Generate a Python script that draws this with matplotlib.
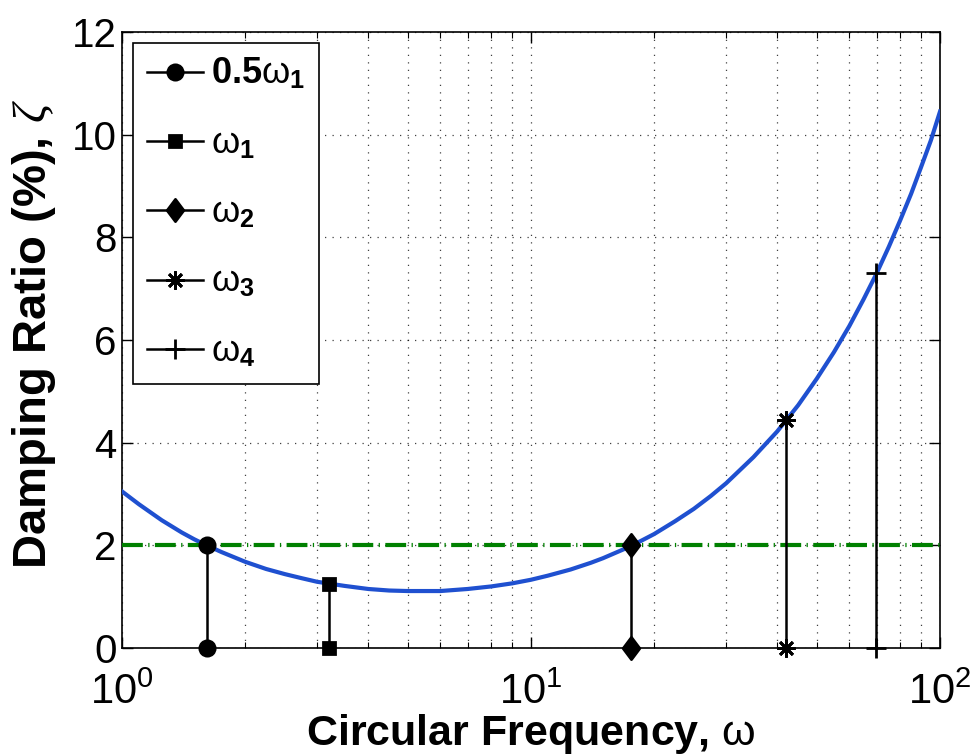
import numpy as np
import matplotlib.pyplot as plt
from matplotlib.path import Path
from matplotlib.ticker import FixedLocator, LogLocator, NullFormatter

plt.rcParams['font.family'] = ['Liberation Sans', 'DejaVu Sans']
plt.rcParams['mathtext.fontset'] = 'custom'
plt.rcParams['mathtext.rm'] = 'Liberation Sans'
plt.rcParams['mathtext.it'] = 'Liberation Serif:italic'
plt.rcParams['mathtext.bf'] = 'Liberation Sans:bold'

# Damping curve (omega, zeta %)
curve_w = [1, 1.1, 1.25, 1.4, 1.5, 1.6, 1.75, 2, 2.25, 2.5, 2.75, 3, 3.5, 4,
           4.5, 5, 5.5, 6, 7, 8, 9, 10, 11, 12.5, 14, 15, 17.5, 20, 22.5, 25,
           27.5, 30, 35, 40, 45, 50, 55, 60, 65, 70, 75, 80, 85, 90, 95, 100]
curve_z = [3.05, 2.80, 2.49, 2.25, 2.12, 2.01, 1.87, 1.68, 1.54, 1.44, 1.36,
           1.29, 1.21, 1.15, 1.12, 1.11, 1.11, 1.11, 1.15, 1.20, 1.26, 1.33,
           1.41, 1.53, 1.66, 1.75, 1.98, 2.22, 2.47, 2.71, 2.96, 3.21, 3.72,
           4.22, 4.73, 5.25, 5.76, 6.27, 6.79, 7.30, 7.82, 8.34, 8.85, 9.38,
           9.89, 10.45]

# Target damping level
target_z = 2.0

# Modal frequencies and damping at them
mode_labels = [r'$\mathbf{0.5}\mathrm{\omega}_\mathbf{1}$', r'$\mathrm{\omega}_\mathbf{1}$',
               r'$\mathrm{\omega}_\mathbf{2}$', r'$\mathrm{\omega}_\mathbf{3}$',
               r'$\mathrm{\omega}_\mathbf{4}$']
mode_w = [1.61, 3.21, 17.6, 42.0, 69.7]
mode_z = [2.0, 1.25, 2.0, 4.45, 7.3]

# matlab style diamond (a bit taller than wide)
diamond = Path([(0, 1), (0.75, 0), (0, -1), (-0.75, 0), (0, 1)],
               [Path.MOVETO, Path.LINETO, Path.LINETO, Path.LINETO, Path.CLOSEPOLY])
mode_markers = ['o', 's', diamond, (8, 2, 0), '+']
mode_sizes = [11, 9, 16, 13, 15]

fig = plt.figure(figsize=(9.74, 7.55), dpi=100)
ax = fig.add_axes([0.1253, 0.1417, 0.8398, 0.8159])

ax.plot(curve_w, curve_z, color='#1f50d0', lw=3, zorder=3)
ax.plot([1, 100], [target_z, target_z], color='#008000', lw=3,
        dashes=(5, 1.3, 0.3, 1.3), zorder=3)

for lab, w, z, m, s in zip(mode_labels, mode_w, mode_z, mode_markers, mode_sizes):
    ax.plot([w, w], [0, z], color='k', lw=1.8, marker=m, ms=s,
            mew=2, label=lab, clip_on=False, zorder=4)

ax.set_xscale('log')
ax.set_xlim(1, 100)
ax.set_ylim(0, 12)
ax.xaxis.set_major_locator(FixedLocator([1, 10, 100]))
ax.set_xticklabels([r'$\mathrm{10^{0}}$', r'$\mathrm{10^{1}}$', r'$\mathrm{10^{2}}$'])
ax.xaxis.set_minor_locator(LogLocator(base=10, subs=np.arange(2, 10)))
ax.xaxis.set_minor_formatter(NullFormatter())
ax.set_yticks(np.arange(0, 13, 2))

ax.tick_params(which='both', direction='in', top=True, right=True)
ax.tick_params(axis='y', labelsize=29, pad=4)
ax.tick_params(axis='x', labelsize=30, pad=18)
ax.tick_params(which='major', length=8, width=1)
ax.tick_params(which='minor', length=4, width=0.8)
for sp in ax.spines.values():
    sp.set_linewidth(1.2)

grid_kw = dict(color='k', lw=0.9, alpha=0.75, dashes=(1, 5))
ax.grid(True, which='major', **grid_kw)
ax.grid(True, which='minor', axis='x', **grid_kw)
ax.set_axisbelow(True)

ax.set_xlabel(r'Circular Frequency, $\mathrm{\omega}$', fontsize=31, fontweight='bold')
ax.xaxis.set_label_coords(0.5, -0.104)
ax.set_ylabel(r'Damping Ratio (%), $\zeta$', fontsize=34, fontweight='bold')
ax.yaxis.set_label_coords(-0.078, 0.51)

leg = ax.legend(loc='upper left', fontsize=26, handlelength=1.55, labelspacing=0.95,
                borderaxespad=0.3, fancybox=False, edgecolor='k', framealpha=1,
                numpoints=1, handletextpad=0.2, borderpad=0.4)
leg.get_frame().set_linewidth(1.2)

fig.savefig('out.png', dpi=100)
